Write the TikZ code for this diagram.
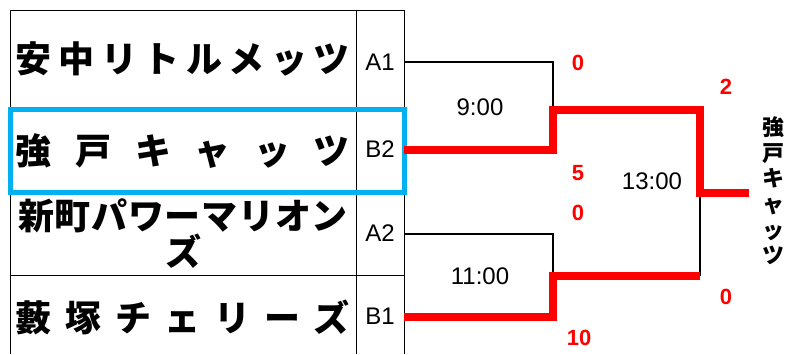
\documentclass[tikz,border=0pt]{standalone}
\usepackage{fontspec}
\setmainfont{Liberation Sans}
\newfontfamily\jp{Noto Sans CJK JP}
\definecolor{boxblue}{RGB}{0,176,240}
\begin{document}
\begin{tikzpicture}
[x=1pt,y=-1pt,
 namedecorate/.style={font=\jp\bfseries\fontsize{36}{34}\selectfont,inner sep=0pt,align=center},%
 seeddecorate/.style={font=\fontsize{24}{24}\selectfont,inner sep=0pt},%
 timedecorate/.style={font=\fontsize{24}{24}\selectfont,inner sep=0pt},%
 scoredecorate/.style={font=\bfseries\fontsize{22}{22}\selectfont,text=red,inner sep=0pt},%
 winnerdecorate/.style={font=\jp\bfseries\fontsize{22}{25.6}\selectfont,inner sep=0pt,align=center},%
 tabledecorate/.style={draw=black,line width=0.8pt},%
 linedecorate/.style={-,black,line width=2.5pt},%
 winlinedecorate/.style={-,red,line width=7.5pt}]
\useasboundingbox (0,0) rectangle (792,354);
%% table
\draw[tabledecorate] (10,354) -- (10,10) -- (404,10) -- (404,354);
\draw[tabledecorate] (356,10) -- (356,354);
\foreach \y in {108,192,275}
{
  \draw[tabledecorate] (10,\y) -- (404,\y);
}
\draw[boxblue,line width=5pt] (10,109.5) rectangle (404,192.5);
%% team names and seeds
\foreach \nodename/\y/\teamname in {
 nameA1/59/{\hbox to 334pt{安\hfill 中\hfill リ\hfill ト\hfill ル\hfill メ\hfill ッ\hfill ツ}},
 nameB2/151/{\hbox to 334pt{強\hfill 戸\hfill キ\hfill ャ\hfill ッ\hfill ツ}},
 nameA2/234/{\hbox to 330pt{新\hfill 町\hfill パ\hfill ワ\hfill ー\hfill マ\hfill リ\hfill オ\hfill ン}\\ズ},
 nameB1/317/{\hbox to 334pt{藪\hfill 塚\hfill チ\hfill ェ\hfill リ\hfill ー\hfill ズ}}}
{
  \node (\nodename) at (183,\y) [namedecorate] {\teamname};
}
\foreach \nodename/\y/\seed in {seedA1/62/A1, seedB2/149/B2, seedA2/233/A2, seedB1/316/B1}
{
  \node (\nodename) at (380,\y) [seeddecorate] {\seed};
}
%% bracket points
\coordinate (eA1) at (404,62);
\coordinate (eB2) at (404,150);
\coordinate (eA2) at (404,234);
\coordinate (eB1) at (404,317);
\coordinate (game1) at (553,110);
\coordinate (game2) at (553,276);
\coordinate (final) at (700,193);
\coordinate (champ) at (749,193);
%% lines
\draw[linedecorate] (eA1) -| (game1);
\draw[linedecorate] (eA2) -| (game2);
\draw[linedecorate] (game2 -| final) -- (final);
\draw[winlinedecorate] (eB2) -| (game1) -| (final) -- (champ);
\draw[winlinedecorate] (eB1) -| (game2) -- (game2 -| final);
%% times and scores
\foreach \nodename/\x/\y/\t in {time1/480/107/9:00, time2/480/276/11:00, time3/652/181/13:00}
{
  \node (\nodename) at (\x,\y) [timedecorate] {\t};
}
\foreach \nodename/\x/\y/\s in {scoreA1/578/63/0, scoreB2/578/173/5, scoreA2/578/213/0,
 scoreB1/579/338/10, scoreF1/726/87/2, scoreF2/726/297/0}
{
  \node (\nodename) at (\x,\y) [scoredecorate] {\s};
}
\node (winner) at (773,191) [winnerdecorate] {強\\戸\\キ\\ャ\\ッ\\ツ};
\end{tikzpicture}
\end{document}
